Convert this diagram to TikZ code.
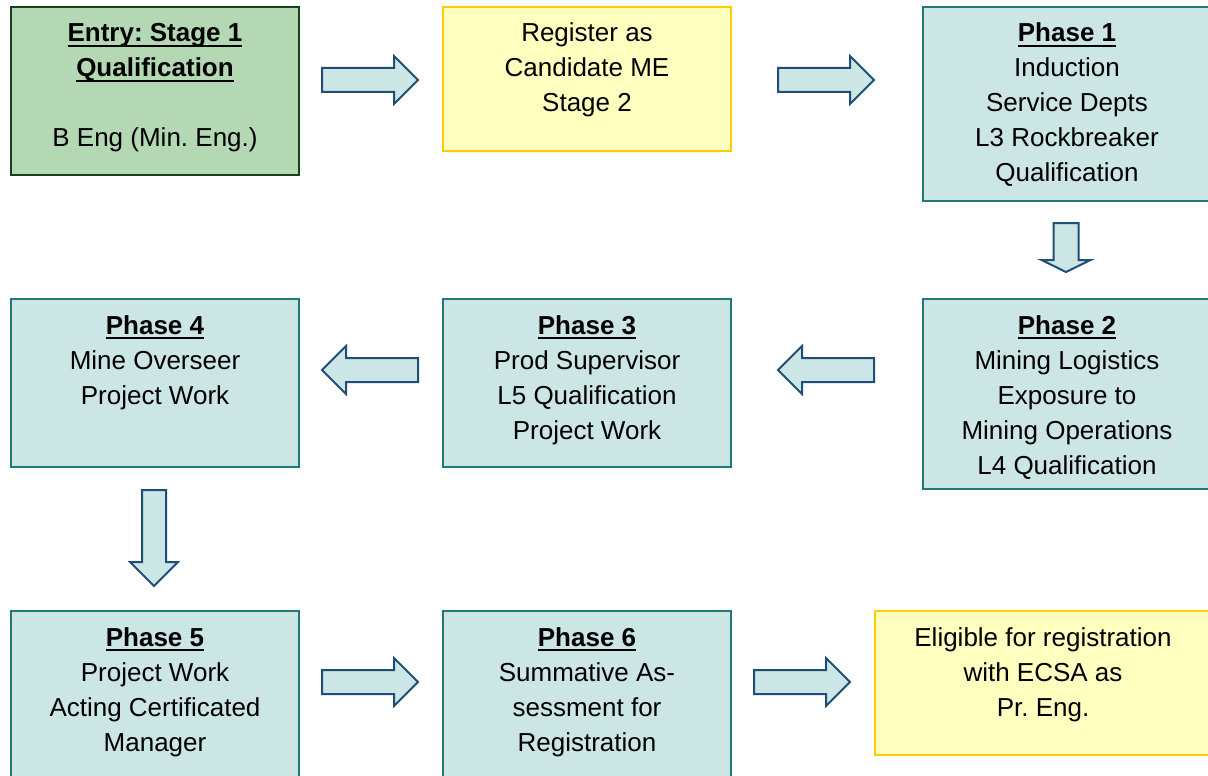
\documentclass[tikz,border=0pt]{standalone}
\usepackage{fontspec}
\setmainfont{Liberation Sans}
\frenchspacing
\definecolor{tealfill}{HTML}{CCE5E5}
\definecolor{tealline}{HTML}{1F7A78}
\definecolor{greenfill}{HTML}{B3D8B3}
\definecolor{greenline}{HTML}{1A3F1A}
\definecolor{yelfill}{HTML}{FFFFC0}
\definecolor{yelline}{HTML}{FFCC00}
\definecolor{arrline}{HTML}{1F4E79}
\newcommand\myul[1]{\leavevmode\setbox0\hbox{#1}\rlap{\rule[-5pt]{\wd0}{2pt}}\box0}
\newcommand\ttl[1]{\myul{\textbf{#1}}}
\tikzset{
  basebox/.style={rectangle, line width=2pt, inner sep=0pt, anchor=north west},
  tealbox/.style={basebox, draw=tealline, fill=tealfill},
  greenbox/.style={basebox, draw=greenline, fill=greenfill},
  yelbox/.style={basebox, draw=yelline, fill=yelfill},
  txt/.style={anchor=base, inner sep=0pt, font=\fontsize{26}{35}\selectfont\frenchspacing},
  arrowstyle/.style={draw=arrline, fill=tealfill, line width=2pt, line join=miter},
  harrow/.pic={\draw[arrowstyle] (-48,-12) -- (24,-12) -- (24,-24) -- (48,0) -- (24,24) -- (24,12) -- (-48,12) -- cycle;},
  vshort/.pic={\draw[arrowstyle] (-12.5,-24.5) -- (-12.5,12.5) -- (-24.5,12.5) -- (0,24.5) -- (24.5,12.5) -- (12.5,12.5) -- (12.5,-24.5) -- cycle;}
}
\newcommand\tb[2]{\parbox[t]{#1}{\centering\frenchspacing #2}}
\begin{document}
\begin{tikzpicture}[x=1pt,y=-1pt]
\clip (0,0) rectangle (1208,776);
\fill[white] (0,0) rectangle (1208,776);
% boxes
\node[greenbox, minimum width=288, minimum height=168] (entry) at (10,6) {};
\node[yelbox, minimum width=288, minimum height=144] (reg) at (442,6) {};
\node[tealbox, minimum width=288, minimum height=194] (p1) at (922,6) {};
\node[tealbox, minimum width=288, minimum height=190] (p2) at (922,298) {};
\node[tealbox, minimum width=288, minimum height=168] (p3) at (442,298) {};
\node[tealbox, minimum width=288, minimum height=168] (p4) at (10,298) {};
\node[tealbox, minimum width=288, minimum height=170] (p5) at (10,610) {};
\node[tealbox, minimum width=288, minimum height=170] (p6) at (442,610) {};
\node[yelbox, minimum width=336, minimum height=144] (elig) at (874,610) {};
% texts
\node[txt] (tentry) at ([yshift=-36pt]entry.north) {\tb{280pt}{\ttl{Entry: Stage 1}\\\ttl{Qualification}\\\mbox{}\\B Eng (Min. Eng.)}};
\node[txt] (treg) at ([yshift=-36pt]reg.north) {\tb{280pt}{Register as\\Candidate ME\\Stage 2}};
\node[txt] (tp1) at ([yshift=-36pt]p1.north) {\tb{280pt}{\ttl{Phase 1}\\Induction\\Service Depts\\L3 Rockbreaker\\Qualification}};
\node[txt] (tp2) at ([yshift=-36pt]p2.north) {\tb{280pt}{\ttl{Phase 2}\\Mining Logistics\\Exposure to\\Mining Operations\\L4 Qualification}};
\node[txt] (tp3) at ([yshift=-36pt]p3.north) {\tb{280pt}{\ttl{Phase 3}\\Prod Supervisor\\L5 Qualification\\Project Work}};
\node[txt] (tp4) at ([yshift=-36pt]p4.north) {\tb{280pt}{\ttl{Phase 4}\\Mine Overseer\\Project Work}};
\node[txt] (tp5) at ([yshift=-36pt]p5.north) {\tb{280pt}{\ttl{Phase 5}\\Project Work\\Acting Certificated\\Manager}};
\node[txt] (tp6) at ([yshift=-36pt]p6.north) {\tb{280pt}{\ttl{Phase 6}\\Summative As-\\sessment for\\Registration}};
\node[txt] (telig) at ([yshift=-36pt]elig.north) {\tb{330pt}{Eligible for registration\\with ECSA as\\Pr. Eng.}};
% arrows
\pic at (370,80) {harrow};
\pic at (826,80) {harrow};
\pic at (1066,247.5) {vshort};
\pic[rotate=180] at (826,370) {harrow};
\pic[rotate=180] at (370,370) {harrow};
\pic[rotate=-90] at (154,538) {harrow};
\pic at (370,682) {harrow};
\pic at (802,682) {harrow};
\end{tikzpicture}
\end{document}
